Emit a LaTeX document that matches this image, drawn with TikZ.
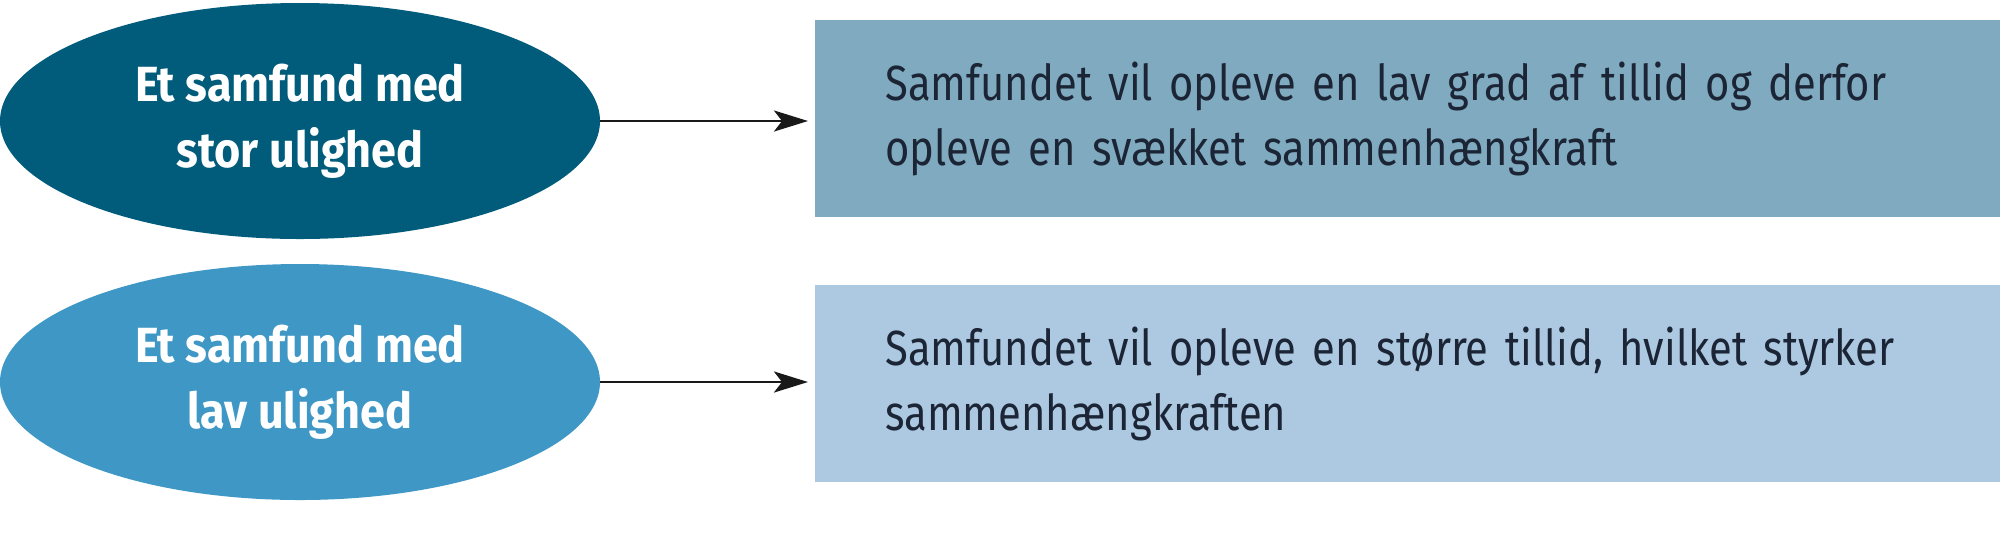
\documentclass[tikz,border=0pt]{standalone}
\usepackage{fontspec}
\setmainfont{Fira Sans}
\newfontfamily\ellfont{Fira Sans}[FakeStretch=0.91]
\newfontfamily\boxfont{Fira Sans}[FakeStretch=0.845]
\newcommand\myboxtextfont{\boxfont\fontsize{24.7}{32.5}\selectfont}
\usetikzlibrary{shapes.geometric,arrows.meta}
\definecolor{ellA}{RGB}{0,92,122}
\definecolor{ellB}{RGB}{62,151,197}
\definecolor{boxA}{RGB}{128,170,191}
\definecolor{boxB}{RGB}{173,200,225}
\definecolor{txt}{RGB}{27,37,53}
\tikzset{
  ellnode/.style={ellipse, inner sep=0pt, minimum width=300pt, minimum height=118pt,
    text=white, align=center, font=\ellfont\bfseries\fontsize{24.7}{33}\selectfont},
  boxnode/.style={rectangle, anchor=north west, inner xsep=35pt, inner ysep=0pt,
    minimum width=592.5pt, minimum height=98.5pt, text width=522.5pt, align=left,
    text=txt, font=\myboxtextfont},
  conn/.style={-{Stealth[length=17pt,width=10.5pt,inset=4pt]}, line width=1.3pt,
    black!90, shorten >=3.5pt}
}
\begin{document}
\begin{tikzpicture}[x=0.5pt,y=-0.5pt]
\useasboundingbox (0,0) rectangle (2000,543);
\node[ellnode, fill=ellA] (e1) at (300,121) {Et samfund med\\stor ulighed};
\node[ellnode, fill=ellB] (e2) at (300,382) {Et samfund med\\lav ulighed};
\node[boxnode, fill=boxA] (b1) at (815,20) {Samfundet vil opleve en lav grad af tillid og derfor\\opleve en svækket sammenhængkraft};
\node[boxnode, fill=boxB] (b2) at (815,285) {Samfundet vil opleve en større tillid, hvilket styrker\\sammenhængkraften};
\draw[conn] (e1.east) -- (e1.east -| b1.west);
\draw[conn] (e2.east) -- (e2.east -| b2.west);
\end{tikzpicture}
\end{document}
